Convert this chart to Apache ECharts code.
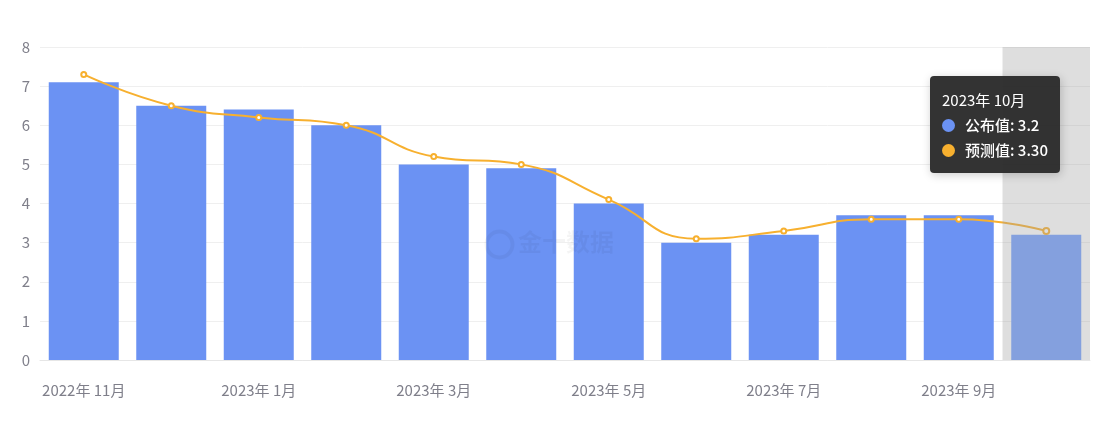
<!DOCTYPE html>
<html><head><meta charset="utf-8">
<script src="https://cdn.jsdelivr.net/npm/echarts@6/dist/echarts.min.js"></script>
<style>html,body{margin:0;padding:0;background:#fff}#c{width:1107px;height:442px}</style>
</head><body><div id="c"></div>
<script>
var categories = ['2022年 11月','2022年 12月','2023年 1月','2023年 2月','2023年 3月','2023年 4月','2023年 5月','2023年 6月','2023年 7月','2023年 8月','2023年 9月','2023年 10月'];
var actualValues = [7.1, 6.5, 6.4, 6.0, 5.0, 4.9, 4.0, 3.0, 3.2, 3.7, 3.7, 3.2];
var forecastValues = [7.3, 6.5, 6.2, 6.0, 5.2, 5.0, 4.1, 3.1, 3.3, 3.6, 3.6, 3.3];
var yTicks = [0, 8, 1];

var chart = echarts.init(document.getElementById('c'), null, {renderer: 'canvas'});
var font = '"Microsoft YaHei","Noto Sans CJK SC",sans-serif';
chart.setOption({
  animation: false,
  textStyle: {fontFamily: font},
  grid: {left: 40, right: 17, top: 47, bottom: 82},
  tooltip: {
    trigger: 'axis',
    backgroundColor: 'rgba(40,40,40,0.95)',
    borderWidth: 0,
    padding: [11, 12],
    position: [930, 76],
    axisPointer: {type: 'shadow', z: 100, shadowStyle: {color: 'rgba(160,160,160,0.35)'}},
    formatter: function (ps) {
      var s = '<div style="font-size:15px;color:#fff;line-height:25px;font-family:' + font.replace(/"/g, "'") + '">' + ps[0].name;
      ps.forEach(function (p) {
        var v = p.seriesIndex === 1 ? p.value.toFixed(2) : p.value;
        s += '<br/><span style="font-size:15px;font-weight:500"><span style="display:inline-block;width:13px;height:13px;border-radius:7px;margin-right:10px;vertical-align:-1px;background:' + p.color + '"></span>' + p.seriesName + ': ' + v + '</span>';
      });
      return s + '</div>';
    }
  },
  xAxis: {
    type: 'category',
    data: categories,
    axisLine: {lineStyle: {color: '#e6e6e6'}},
    axisTick: {show: false},
    axisLabel: {interval: 1, color: '#7f7f8a', fontSize: 15, margin: 23}
  },
  yAxis: {
    type: 'value',
    min: yTicks[0], max: yTicks[1], interval: yTicks[2],
    axisLine: {show: false},
    axisTick: {show: false},
    axisLabel: {color: '#7f7f8a', fontSize: 15, margin: 10},
    splitLine: {lineStyle: {color: '#efefef'}}
  },
  graphic: [
    {type: 'circle', left: 484, top: 229, shape: {r: 13}, style: {fill: 'none', stroke: 'rgba(0,0,0,0.045)', lineWidth: 4}, z: 100},
    {type: 'text', left: 518, top: 230, style: {text: '金十数据', fontSize: 24, fontWeight: 'bold', fill: 'rgba(0,0,0,0.045)', fontFamily: font}, z: 100}
  ],
  series: [
    {
      name: '公布值', type: 'bar', data: actualValues,
      barCategoryGap: '20%',
      itemStyle: {color: '#6b92f3'}
    },
    {
      name: '预测值', type: 'line', data: forecastValues, smooth: true,
      symbol: 'emptyCircle', symbolSize: 5,
      itemStyle: {color: '#f7b02f', borderColor: '#f7b02f', borderWidth: 1.2},
      lineStyle: {color: '#f7b02f', width: 2},
      emphasis: {disabled: true}
    }
  ]
});
chart.dispatchAction({type: 'showTip', seriesIndex: 0, dataIndex: 11});
</script></body></html>
